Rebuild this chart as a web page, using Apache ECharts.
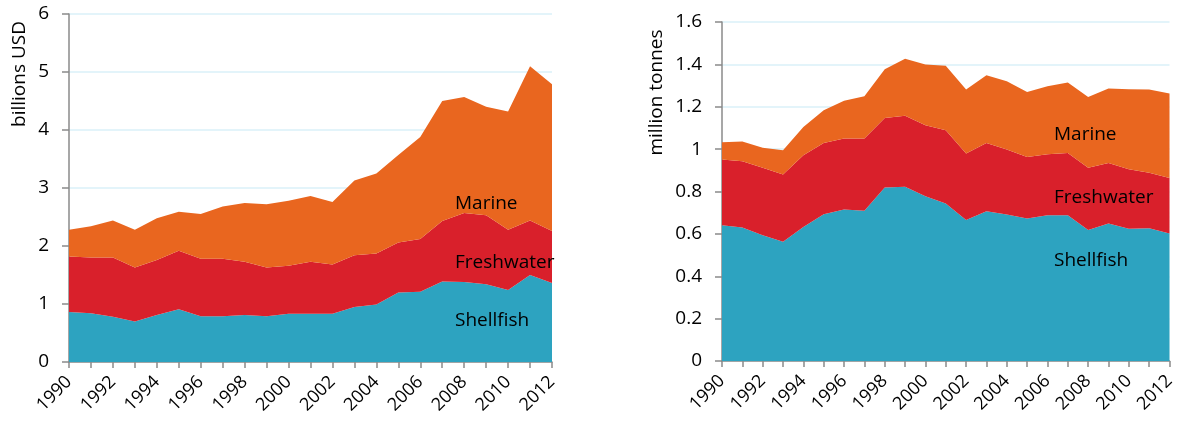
<!DOCTYPE html>
<html>
<head>
<meta charset="utf-8">
<script src="https://cdn.jsdelivr.net/npm/echarts@6/dist/echarts.min.js"></script>
<style>
  html, body { margin: 0; padding: 0; background: #fff; }
  #chart { width: 1178px; height: 421px; }
</style>
</head>
<body>
<div id="chart"></div>
<script>
  // years shared by both panels
  const years = ['1990','1991','1992','1993','1994','1995','1996','1997','1998','1999','2000',
    '2001','2002','2003','2004','2005','2006','2007','2008','2009','2010','2011','2012'];

  // value, billions USD
  const valueShellfish  = [0.86,0.84,0.78,0.70,0.81,0.91,0.79,0.79,0.81,0.79,0.83,0.83,0.83,0.95,0.99,1.20,1.21,1.39,1.38,1.34,1.24,1.50,1.36];
  const valueFreshwater = [0.96,0.96,1.02,0.93,0.95,1.01,0.99,0.99,0.92,0.84,0.83,0.90,0.85,0.89,0.88,0.86,0.91,1.04,1.19,1.19,1.04,0.94,0.90];
  const valueMarine     = [0.46,0.54,0.64,0.65,0.72,0.67,0.77,0.90,1.01,1.09,1.12,1.13,1.08,1.29,1.38,1.51,1.76,2.07,2.00,1.87,2.04,2.66,2.53];

  // volume, million tonnes
  const volShellfish  = [0.641,0.630,0.594,0.563,0.633,0.693,0.715,0.709,0.819,0.822,0.778,0.743,0.665,0.707,0.692,0.673,0.688,0.688,0.618,0.649,0.624,0.627,0.602];
  const volFreshwater = [0.310,0.313,0.318,0.317,0.338,0.336,0.335,0.341,0.328,0.335,0.335,0.346,0.314,0.322,0.306,0.290,0.288,0.294,0.294,0.286,0.281,0.261,0.262];
  const volMarine     = [0.082,0.093,0.095,0.115,0.134,0.154,0.178,0.200,0.230,0.270,0.287,0.304,0.302,0.320,0.322,0.307,0.321,0.332,0.334,0.351,0.378,0.393,0.398];

  const C_SHELL = '#2da3c0', C_FRESH = '#d9202b', C_MARINE = '#e9661f';
  const FONT = 'Open Sans';
  const AXIS = '#8a8a8a';

  function xAxis(gridIndex) {
    return {
      type: 'category', gridIndex, data: years, boundaryGap: false,
      axisLine: { lineStyle: { color: AXIS, width: 1.5 } },
      axisTick: { show: true, interval: 0, length: 6, lineStyle: { color: AXIS, width: 1.5 } },
      axisLabel: { interval: 1, rotate: 45, margin: 17, fontFamily: FONT, fontSize: 18, color: '#000' },
      splitLine: { show: false }
    };
  }
  function yAxis(gridIndex, max, interval) {
    return {
      type: 'value', gridIndex, min: 0, max, interval,
      axisLine: { show: true, lineStyle: { color: AXIS, width: 1.5 } },
      axisTick: { show: true, length: 7, lineStyle: { color: AXIS, width: 1.5 } },
      axisLabel: { margin: 20, fontFamily: FONT, fontSize: 19, color: '#000' },
      splitLine: { show: true, lineStyle: { color: '#daf1f8', width: 1.5 } }
    };
  }
  function area(name, data, color, idx) {
    return {
      name, type: 'line', data, stack: 's' + idx, xAxisIndex: idx, yAxisIndex: idx,
      symbol: 'none', lineStyle: { width: 0 }, areaStyle: { color, opacity: 1 },
      silent: true, z: 2
    };
  }
  function label(text, x, y) {
    return { type: 'text', x, y, z: 10,
      style: { text, fontFamily: FONT, fontSize: 19, fill: '#000', verticalAlign: 'middle' } };
  }
  function axisName(text, x, y) {
    return { type: 'text', x, y, rotation: Math.PI / 2,
      style: { text, fontFamily: FONT, fontSize: 19, fill: '#000', align: 'center', verticalAlign: 'middle' } };
  }

  const chart = echarts.init(document.getElementById('chart'), null, { renderer: 'canvas' });
  chart.setOption({
    animation: false,
    grid: [
      { left: 69, right: 626, top: 14, bottom: 59 },
      { left: 722, right: 5, top: 22, bottom: 60 }
    ],
    xAxis: [xAxis(0), xAxis(1)],
    yAxis: [yAxis(0, 6, 1), yAxis(1, 1.6, 0.2)],
    series: [
      area('Shellfish', valueShellfish, C_SHELL, 0),
      area('Freshwater', valueFreshwater, C_FRESH, 0),
      area('Marine', valueMarine, C_MARINE, 0),
      area('Shellfish', volShellfish, C_SHELL, 1),
      area('Freshwater', volFreshwater, C_FRESH, 1),
      area('Marine', volMarine, C_MARINE, 1)
    ],
    graphic: [
      axisName('billions USD', 19.5, 74),
      axisName('million tonnes', 657, 92.5),
      label('Marine', 455, 204),
      label('Freshwater', 455, 263),
      label('Shellfish', 455, 321),
      label('Marine', 1054, 135),
      label('Freshwater', 1054, 198),
      label('Shellfish', 1054, 261)
    ]
  });
</script>
</body>
</html>
